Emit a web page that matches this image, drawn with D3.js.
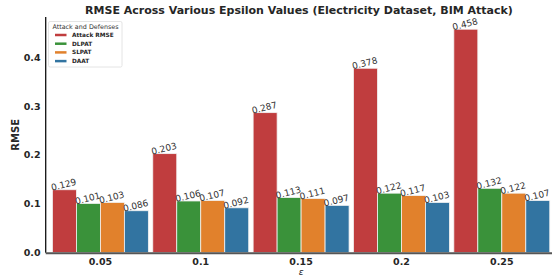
<!DOCTYPE html>
<html>
<head>
<meta charset="utf-8">
<script src="https://cdn.jsdelivr.net/npm/d3@7"></script>
<style>
  body { margin: 0; background: #fff; }
  svg { display: block; font-family: "DejaVu Sans", sans-serif; }
</style>
</head>
<body>
<div id="graph"></div>
<script>
var epsilons = ["0.05", "0.1", "0.15", "0.2", "0.25"];
var series = ["Attack RMSE", "DLPAT", "SLPAT", "DAAT"];
var attackRmse = [0.129, 0.203, 0.287, 0.378, 0.458];
var dlpat = [0.101, 0.106, 0.113, 0.122, 0.132];
var slpat = [0.103, 0.107, 0.111, 0.117, 0.122];
var daat = [0.086, 0.092, 0.097, 0.103, 0.107];
var yTicks = [0.0, 0.1, 0.2, 0.3, 0.4];

function dessin() {
    var width = 552, height = 277,
        couleurs = ["#c03d3e", "#3a923a", "#e1812c", "#3274a1"],
        valeurs = [attackRmse, dlpat, slpat, daat],

        svg = d3.select("#graph")
            .append("svg")
                .attr("width", width)
                .attr("height", height),

        // positions des groupes (indice de la catégorie)
        x = d3.scaleLinear()
            .domain([-0.545, 4.55])
            .range([45.7, 557]),

        y = d3.scaleLinear()
            .domain([0, 0.483])
            .range([252.7, 17]),

        barW = 0.239;

    // barres
    valeurs.forEach(function (serie, s) {
        svg.selectAll(".bar" + s)
            .data(serie)
            .enter()
            .append("rect")
            .attr("x", function (d, i) { return x(i - 0.478 + s * barW); })
            .attr("width", x(barW) - x(0))
            .attr("y", function (d) { return y(d); })
            .attr("height", function (d) { return y(0) - y(d); })
            .style("fill", couleurs[s])
            .style("stroke", "#f2f2f2")
            .style("stroke-width", 0.8);

        svg.selectAll(".lab" + s)
            .data(serie)
            .enter()
            .append("text")
            .attr("transform", function (d, i) {
                var cx = x(i - 0.478 + (s + 0.5) * barW);
                return "translate(" + cx + "," + (y(d) - 2) + ") rotate(-14)";
            })
            .style("text-anchor", "middle")
            .style("font-size", "9px")
            .style("fill", "#333")
            .text(function (d) { return d3.format(".3f")(d); });
    });

    // axes
    svg.append("line")
        .attr("x1", x.range()[0]).attr("x2", x.range()[0])
        .attr("y1", y(0)).attr("y2", y.range()[1])
        .style("stroke", "#111")
        .style("stroke-width", 1.3);
    svg.append("line")
        .attr("x1", x.range()[0]).attr("x2", width)
        .attr("y1", y(0) + 0.5).attr("y2", y(0) + 0.5)
        .style("stroke", "#555")
        .style("stroke-width", 2);

    svg.selectAll(".ytick")
        .data(yTicks)
        .enter()
        .append("text")
        .attr("x", 40.5)
        .attr("y", function (d) { return y(d); })
        .attr("dy", "0.35em")
        .style("text-anchor", "end")
        .style("font-size", "9.5px")
        .style("font-weight", "bold")
        .style("fill", "#262626")
        .text(function (d) { return d3.format(".1f")(d); });

    svg.selectAll(".xtick")
        .data(epsilons)
        .enter()
        .append("text")
        .attr("x", function (d, i) { return x(i); })
        .attr("y", 265)
        .style("text-anchor", "middle")
        .style("font-size", "9.5px")
        .style("font-weight", "bold")
        .style("fill", "#262626")
        .text(function (d) { return d; });

    svg.append("text")
        .attr("x", x(2))
        .attr("y", 275)
        .style("text-anchor", "middle")
        .style("font-size", "9px")
        .style("font-style", "italic")
        .style("fill", "#262626")
        .text("ε");

    svg.append("text")
        .attr("transform", "translate(19," + ((y(0) + y.range()[1]) / 2) + ") rotate(-90)")
        .style("text-anchor", "middle")
        .style("font-size", "10px")
        .style("font-weight", "bold")
        .style("fill", "#262626")
        .text("RMSE");

    svg.append("text")
        .attr("x", 299)
        .attr("y", 14)
        .style("text-anchor", "middle")
        .style("font-size", "11px")
        .style("font-weight", "bold")
        .style("fill", "#262626")
        .text("RMSE Across Various Epsilon Values (Electricity Dataset, BIM Attack)");

    // légende
    var leg = svg.append("g").attr("transform", "translate(48.5,21.5)");
    leg.append("rect")
        .attr("width", 73.5).attr("height", 45.5)
        .attr("rx", 1.5)
        .style("fill", "#fff")
        .style("stroke", "#ddd")
        .style("stroke-width", 0.8);
    leg.append("text")
        .attr("x", 37).attr("y", 7)
        .style("text-anchor", "middle")
        .style("font-size", "6.4px")
        .style("fill", "#333")
        .text("Attack and Defenses");
    series.forEach(function (nom, s) {
        var yy = 13.5 + s * 8.7;
        leg.append("line")
            .attr("x1", 6.5).attr("x2", 18)
            .attr("y1", yy).attr("y2", yy)
            .style("stroke", couleurs[s])
            .style("stroke-width", 2.5);
        leg.append("text")
            .attr("x", 23.5).attr("y", yy)
            .attr("dy", "0.35em")
            .style("font-size", "5.8px")
            .style("font-weight", "bold")
            .style("fill", "#262626")
            .text(nom);
    });
}

dessin();
</script>
</body>
</html>
